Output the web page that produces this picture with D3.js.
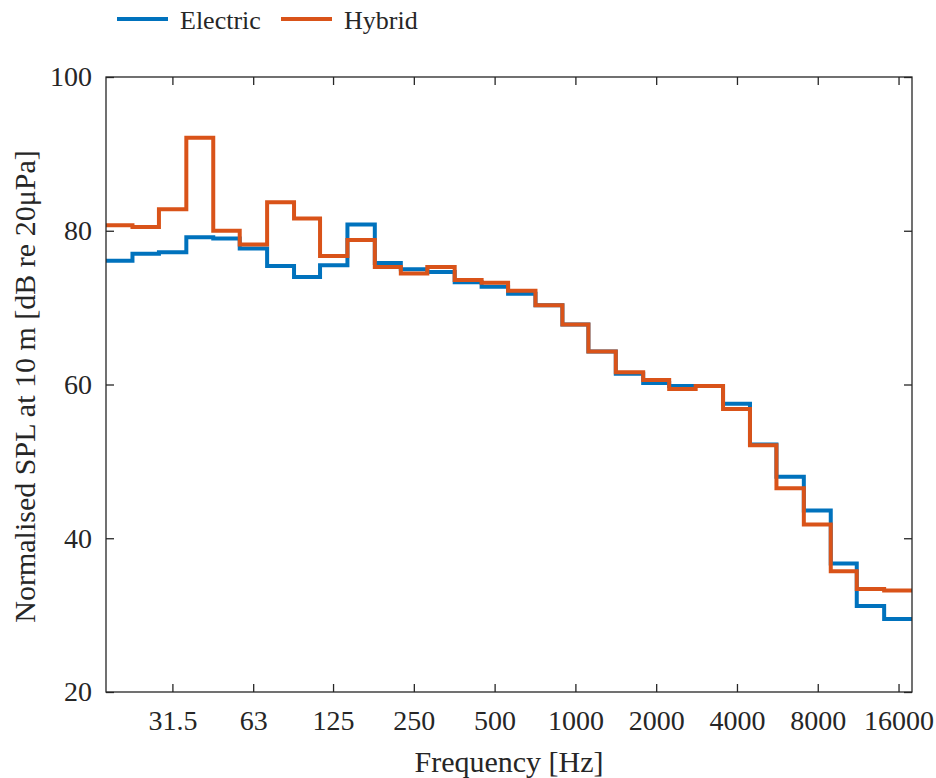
<!DOCTYPE html>
<html>
<head>
<meta charset="utf-8">
<script src="https://cdn.jsdelivr.net/npm/d3@7"></script>
<style>
  html, body { margin: 0; padding: 0; background: #fff; }
  svg text { font-family: "Liberation Serif", "Times New Roman", serif; fill: #262626; }
</style>
</head>
<body>
<svg id="chart" width="936" height="778"></svg>
<script>
// bande di terzo d'ottava (Hz, valori nominali)
const bands = [20, 25, 31.5, 40, 50, 63, 80, 100, 125, 160,
               200, 250, 315, 400, 500, 630, 800, 1000, 1250, 1600,
               2000, 2500, 3150, 4000, 5000, 6300, 8000, 10000, 12500, 16000];

// SPL normalizzato a 10 m [dB re 20uPa]
const electric = [76.1, 77.0, 77.2, 79.15, 79.0, 77.7, 75.4, 74.0, 75.5, 80.8,
                  75.8, 75.0, 74.65, 73.3, 72.7, 71.8, 70.3, 67.8, 64.3, 61.4,
                  60.2, 59.8, 59.8, 57.5, 52.2, 48.0, 43.6, 36.7, 31.2, 29.5];
const hybrid   = [80.7, 80.5, 82.8, 92.1, 80.0, 78.2, 83.7, 81.6, 76.7, 78.8,
                  75.3, 74.45, 75.3, 73.6, 73.25, 72.2, 70.3, 67.8, 64.3, 61.6,
                  60.6, 59.4, 59.8, 56.8, 52.1, 46.5, 41.8, 35.7, 33.4, 33.2];

const xTicks = [31.5, 63, 125, 250, 500, 1000, 2000, 4000, 8000, 16000];
const yTicks = [20, 40, 60, 80, 100];

const series = [
  { name: 'Electric', values: electric, color: '#0072BD' },
  { name: 'Hybrid',   values: hybrid,   color: '#D95319' }
];

const margin = { left: 106, right: 24, top: 77, bottom: 86 };
const W = 936, H = 778;
const axisColor = '#262626';

const svg = d3.select('#chart');

// bordi delle bande (media geometrica tra centri consecutivi)
const sixth = Math.pow(2, 1 / 6);
const edges = [bands[0] / sixth];
for (let i = 0; i < bands.length - 1; i++) edges.push(Math.sqrt(bands[i] * bands[i + 1]));
edges.push(bands[bands.length - 1] * sixth);

const x = d3.scaleLog()
  .domain([edges[0], edges[edges.length - 1]])
  .range([margin.left, W - margin.right]);

const y = d3.scaleLinear()
  .domain([20, 100])
  .range([H - margin.bottom, margin.top]);

// linee a gradini
const line = d3.line()
  .x(d => x(d[0]))
  .y(d => y(d[1]))
  .curve(d3.curveStepAfter);

series.forEach(s => {
  const pts = s.values.map((v, i) => [edges[i], v]);
  pts.push([edges[edges.length - 1], s.values[s.values.length - 1]]);
  svg.append('path')
    .datum(pts)
    .attr('d', line)
    .attr('fill', 'none')
    .attr('stroke', s.color)
    .attr('stroke-width', 4)
    .attr('stroke-linejoin', 'miter');
});

// assi (tacche verso l'interno, come in MATLAB)
const tickLen = 8;
const styleAxis = g => {
  g.select('.domain').remove();
  g.selectAll('.tick line').attr('stroke', axisColor).attr('stroke-width', 1.3);
  g.selectAll('.tick text').style('font-size', '28px').attr('fill', axisColor);
};

svg.append('g')
  .attr('transform', `translate(0,${H - margin.bottom})`)
  .call(d3.axisBottom(x).tickValues(xTicks).tickFormat(d => String(d))
    .tickSize(-tickLen).tickPadding(18))
  .call(styleAxis);

svg.append('g')
  .attr('transform', `translate(0,${margin.top})`)
  .call(d3.axisTop(x).tickValues(xTicks).tickFormat('').tickSize(-tickLen))
  .call(styleAxis);

svg.append('g')
  .attr('transform', `translate(${margin.left},0)`)
  .call(d3.axisLeft(y).tickValues(yTicks).tickSize(-tickLen).tickPadding(14))
  .call(styleAxis);

svg.append('g')
  .attr('transform', `translate(${W - margin.right},0)`)
  .call(d3.axisRight(y).tickValues(yTicks).tickFormat('').tickSize(-tickLen))
  .call(styleAxis);

// riquadro
svg.append('rect')
  .attr('x', margin.left)
  .attr('y', margin.top)
  .attr('width', W - margin.left - margin.right)
  .attr('height', H - margin.top - margin.bottom)
  .attr('fill', 'none')
  .attr('stroke', axisColor)
  .attr('stroke-width', 1.3);

// etichette degli assi
svg.append('text')
  .attr('x', (margin.left + W - margin.right) / 2)
  .attr('y', 772)
  .attr('text-anchor', 'middle')
  .style('font-size', '30px')
  .text('Frequency [Hz]');

svg.append('text')
  .attr('transform', `translate(35,${(margin.top + H - margin.bottom) / 2 + 2}) rotate(-90)`)
  .attr('text-anchor', 'middle')
  .style('font-size', '30px')
  .text('Normalised SPL at 10 m [dB re 20μPa]');

// legenda
const legend = svg.append('g').attr('transform', 'translate(117,19)');
const legX = [0, 164];
series.forEach((s, i) => {
  const g = legend.append('g').attr('transform', `translate(${legX[i]},0)`);
  g.append('line')
    .attr('x1', 0).attr('x2', 51)
    .attr('y1', 0).attr('y2', 0)
    .attr('stroke', s.color)
    .attr('stroke-width', 4);
  g.append('text')
    .attr('x', 63)
    .attr('y', 10)
    .style('font-size', '26px')
    .text(s.name);
});
</script>
</body>
</html>
